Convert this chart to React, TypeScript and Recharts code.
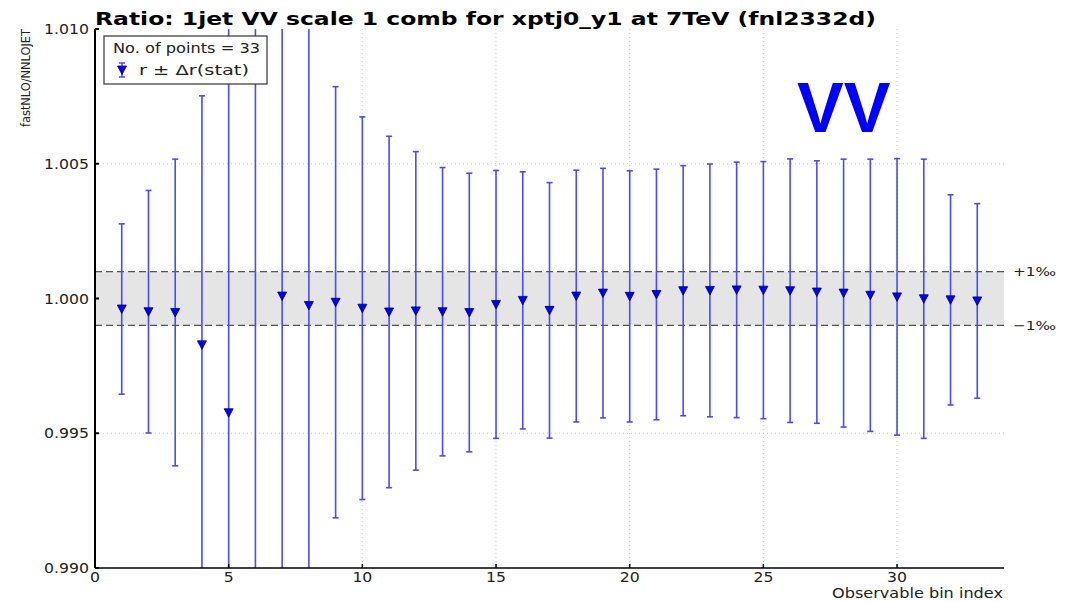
import {
  ScatterChart,
  Scatter,
  XAxis,
  YAxis,
  CartesianGrid,
  ErrorBar,
  ReferenceArea,
  ReferenceLine,
} from "recharts";

const bins = [
  1, 2, 3, 4, 5, 6, 7, 8, 9, 10, 11, 12, 13, 14, 15, 16, 17, 18, 19, 20, 21, 22,
  23, 24, 25, 26, 27, 28, 29, 30, 31, 32, 33,
];
const ratio = [
  0.99961, 0.99951, 0.99948, 0.99828, 0.99576, 1.0125, 1.00009, 0.99974,
  0.99986, 0.99964, 0.9995, 0.99954, 0.99951, 0.99948, 0.99978, 0.99993,
  0.99956, 1.00009, 1.0002, 1.00008, 1.00015, 1.00029, 1.0003, 1.00032,
  1.00031, 1.00029, 1.00024, 1.0002, 1.00012, 1.00006, 0.99999, 0.99995,
  0.99991,
];
const statErr = [
  0.00316, 0.0045, 0.00569, 0.00924, 0.018, 0.03, 0.015, 0.013, 0.008, 0.0071,
  0.00652, 0.00591, 0.00535, 0.00517, 0.00497, 0.00477, 0.00474, 0.00467,
  0.00463, 0.00466, 0.00465, 0.00464, 0.00469, 0.00474, 0.00477, 0.00489,
  0.00487, 0.00497, 0.00505, 0.00513, 0.00518, 0.0039, 0.00361,
];
const xTicks = [0, 5, 10, 15, 20, 25, 30];
const yTicks = [0.99, 0.995, 1.0, 1.005, 1.01];

const data = bins.map((b, i) => ({ bin: b, ratio: ratio[i], err: statErr[i] }));

const font = "'DejaVu Sans', sans-serif";
const blue = "#0000ff";
const barBlue = "#4a4aff";

// keep the long error bars inside the frame
const clipCss = `
.recharts-errorBar, .recharts-errorBars, .recharts-scatter { clip-path: url(#plotClip); }
`;

const XTick = (props: any) => {
  const { x, y, payload } = props;
  return (
    <text
      transform={`translate(${x},${y + 14}) scale(1.12,1)`}
      textAnchor="middle"
      fontSize={14}
      fontFamily={font}
      fill="#222"
    >
      {payload.value}
    </text>
  );
};

const YTick = (props: any) => {
  const { x, y, payload } = props;
  return (
    <text
      transform={`translate(${x - 6},${y}) scale(1.12,1)`}
      textAnchor="end"
      dy="0.36em"
      fontSize={14}
      fontFamily={font}
      fill="#222"
    >
      {Number(payload.value).toFixed(3)}
    </text>
  );
};

const NoTick = () => <g />;

const BandLabel = (props: any) => {
  const { viewBox, text } = props;
  return (
    <text
      x={viewBox.x + viewBox.width + 9}
      y={viewBox.y}
      dy="0.36em"
      fontSize={13}
      fontFamily={font}
      fill="#222"
      textLength={43}
      lengthAdjust="spacingAndGlyphs"
    >
      {text}
    </text>
  );
};

const Triangle = (props: any) => {
  const { cx, cy } = props;
  if (cx == null || cy == null) return <g />;
  return (
    <path
      d={`M${cx - 4.5},${cy - 4} L${cx + 4.5},${cy - 4} L${cx},${cy + 4.5} Z`}
      fill={blue}
      stroke="#00006a"
      strokeWidth={0.8}
    />
  );
};

export default function App() {
  return (
    <div style={{ position: "absolute", left: 0, top: 0, width: 1072, height: 602, background: "#fff" }}>
      <style>{clipCss}</style>
      <svg width={0} height={0} style={{ position: "absolute" }}>
        <defs>
          <clipPath id="plotClip" clipPathUnits="userSpaceOnUse">
            <rect x={95} y={29} width={909} height={539} />
          </clipPath>
        </defs>
      </svg>
      <ScatterChart
        width={1072}
        height={602}
        margin={{ top: 29, right: 68, bottom: 0, left: 0 }}
      >
        <ReferenceArea y1={0.999} y2={1.001} fill="#e5e5e5" fillOpacity={1} stroke="none" />
        <CartesianGrid
          stroke="#c4c4c4"
          strokeDasharray="1 3"
          horizontalValues={[0.995, 1.0, 1.005]}
          verticalValues={[5, 10, 15, 20, 25, 30]}
        />
        <ReferenceLine
          y={1.001}
          stroke="#555"
          strokeWidth={1.3}
          strokeDasharray="7 4"
          label={<BandLabel text="+1‰" />}
        />
        <ReferenceLine
          y={0.999}
          stroke="#555"
          strokeWidth={1.3}
          strokeDasharray="7 4"
          label={<BandLabel text="−1‰" />}
        />
        <XAxis
          dataKey="bin"
          type="number"
          domain={[0, 34]}
          ticks={xTicks}
          height={34}
          stroke="#000"
          strokeWidth={1.5}
          tickSize={-4}
          tickMargin={4}
          tick={<XTick />}
          allowDataOverflow
        />
        <XAxis
          xAxisId="top"
          orientation="top"
          type="number"
          domain={[0, 34]}
          ticks={xTicks}
          height={0}
          stroke="#000"
          strokeWidth={1.5}
          tickSize={-4}
          tick={NoTick}
        />
        <YAxis
          dataKey="ratio"
          type="number"
          domain={[0.99, 1.01]}
          ticks={yTicks}
          width={95}
          stroke="#000"
          strokeWidth={2}
          tickSize={-4}
          tickMargin={4}
          tick={<YTick />}
          allowDataOverflow
        />
        <YAxis
          yAxisId="right"
          orientation="right"
          type="number"
          domain={[0.99, 1.01]}
          ticks={yTicks}
          width={0}
          stroke="#000"
          strokeWidth={2}
          tickSize={-4}
          tick={NoTick}
        />
        <Scatter data={data} shape={<Triangle />} isAnimationActive={false}>
          <ErrorBar
            dataKey="err"
            direction="y"
            width={3}
            stroke={barBlue}
            strokeWidth={1.6}
            isAnimationActive={false}
          />
        </Scatter>
      </ScatterChart>
      <svg
        width={1072}
        height={602}
        style={{ position: "absolute", left: 0, top: 0, pointerEvents: "none" }}
      >
        <text
          x={95}
          y={25}
          fontSize={17}
          fontWeight="bold"
          fontFamily={font}
          fill="#000"
          textLength={781}
          lengthAdjust="spacingAndGlyphs"
        >
          Ratio: 1jet VV scale 1 comb for xptj0_y1 at 7TeV (fnl2332d)
        </text>
        <text
          transform="translate(30,78) rotate(-90)"
          textAnchor="middle"
          fontSize={12}
          fontFamily={font}
          fill="#222"
          textLength={98}
          lengthAdjust="spacingAndGlyphs"
        >
          fastNLO/NNLOJET
        </text>
        <text
          x={1003}
          y={598}
          textAnchor="end"
          fontSize={14}
          fontFamily={font}
          fill="#222"
          textLength={171}
          lengthAdjust="spacingAndGlyphs"
        >
          Observable bin index
        </text>
        <text
          x={797}
          y={132}
          fontSize={70}
          fontWeight="bold"
          fontFamily="'Liberation Sans', Arial, sans-serif"
          fill={blue}
        >
          VV
        </text>
        <rect x={104} y={36} width={163} height={48} fill="#fff" stroke="#333" strokeWidth={1.2} />
        <text
          x={113}
          y={53}
          fontSize={14}
          fontFamily={font}
          fill="#222"
          textLength={147}
          lengthAdjust="spacingAndGlyphs"
        >
          No. of points = 33
        </text>
        <line x1={122} y1={63} x2={122} y2={77} stroke={barBlue} strokeWidth={1.5} />
        <line x1={119} y1={63} x2={125} y2={63} stroke={barBlue} strokeWidth={1.5} />
        <line x1={119} y1={77} x2={125} y2={77} stroke={barBlue} strokeWidth={1.5} />
        <path d="M117.5,66 L126.5,66 L122,74.5 Z" fill={blue} stroke="#00006a" strokeWidth={0.8} />
        <text
          x={139}
          y={75}
          fontSize={14}
          fontFamily={font}
          fill="#222"
          textLength={110}
          lengthAdjust="spacingAndGlyphs"
        >
          r ± Δr(stat)
        </text>
      </svg>
    </div>
  );
}
